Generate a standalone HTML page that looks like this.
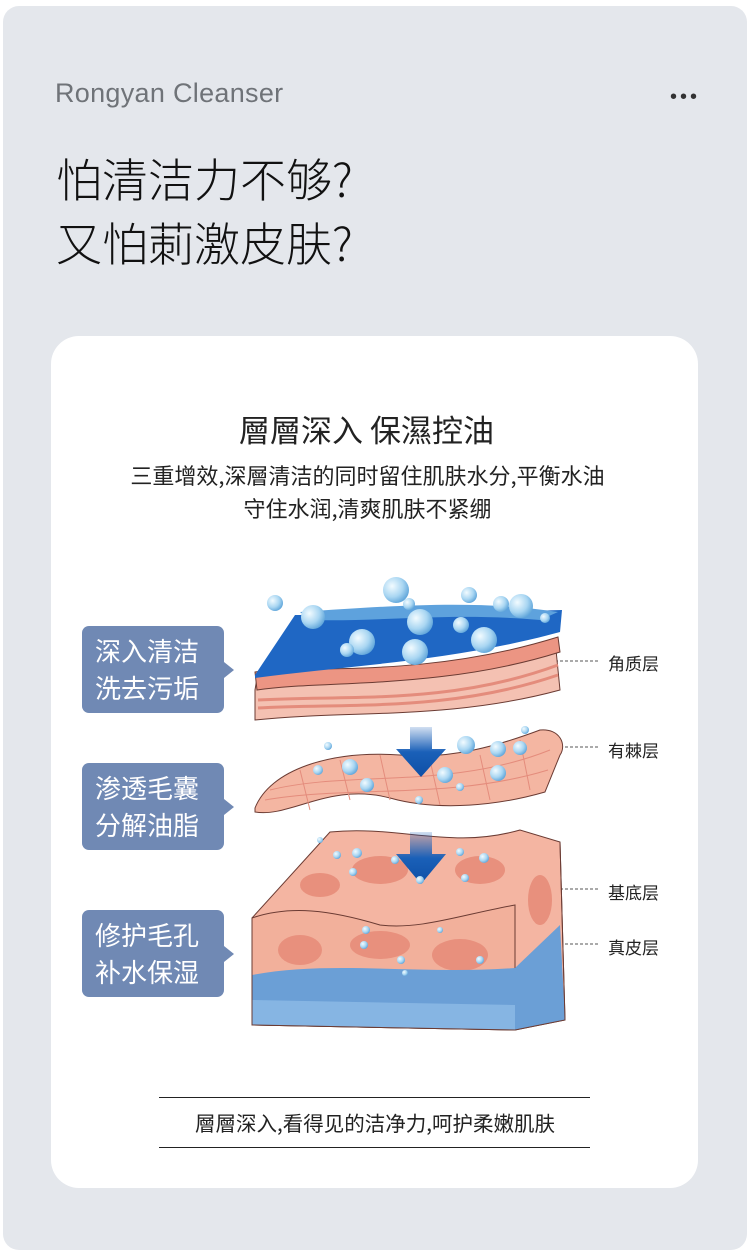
<!DOCTYPE html>
<html><head><meta charset="utf-8"><style>
*{margin:0;padding:0;box-sizing:border-box}
body{width:750px;height:1254px;background:#fff;position:relative;overflow:hidden;font-family:"Liberation Sans","Noto Sans CJK SC",sans-serif}
.outer{position:absolute;left:3px;top:6px;width:744px;height:1244px;background:#e4e7ec;border-radius:16px}
.brand{position:absolute;left:55px;top:78px;font-size:27px;color:#6f7378;letter-spacing:0.3px}
.dots{position:absolute;left:670px;top:86px;font-size:20px;color:#333;letter-spacing:3px}
.h1{position:absolute;left:56px;top:146px;font-size:46px;line-height:64px;color:#111;font-family:"Noto Sans CJK SC",sans-serif;font-weight:300}
.card{position:absolute;left:51px;top:336px;width:647px;height:852px;background:#fff;border-radius:28px}
.t{position:absolute;left:0;width:733px;text-align:center;color:#222;font-family:"Noto Sans CJK SC",sans-serif}
.lab{position:absolute;left:82px;width:142px;height:87px;background:#7089b4;border-radius:7px;color:#fff;font-size:26px;line-height:37px;padding:6px 0 0 13px;font-family:"Noto Sans CJK SC",sans-serif}
.lab:after{content:"";position:absolute;right:-10px;top:36px;border-left:10px solid #7089b4;border-top:8px solid transparent;border-bottom:8px solid transparent}
.r{position:absolute;left:608px;font-size:17px;color:#222;font-family:"Noto Sans CJK SC",sans-serif}
</style></head><body>
<div class="outer"></div>
<div class="brand">Rongyan Cleanser</div>
<div class="dots">•••</div>
<div class="h1">怕清洁力不够?<br>又怕莿激皮肤?</div>
<div class="card"></div>
<div class="t" style="top:406px;font-size:31px">層層深入 保濕控油</div>
<div class="t" style="top:459px;font-size:22px;width:735px">三重增效,深層清洁的同时留住肌肤水分,平衡水油</div>
<div class="t" style="top:492px;font-size:22px;width:735px">守住水润,清爽肌肤不紧绷</div>
<div class="lab" style="top:626px">深入清洁<br>洗去污垢</div>
<div class="lab" style="top:763px">渗透毛囊<br>分解油脂</div>
<div class="lab" style="top:910px">修护毛孔<br>补水保湿</div>
<div class="r" style="top:650px">角质层</div>
<div class="r" style="top:737px">有棘层</div>
<div class="r" style="top:879px">基底层</div>
<div class="r" style="top:934px">真皮层</div>
<svg style="position:absolute;left:0;top:0" width="750" height="1254">
<defs>
<radialGradient id="b" cx="0.35" cy="0.35" r="0.7"><stop offset="0" stop-color="#f2fbff"/><stop offset="0.6" stop-color="#a9d6f2"/><stop offset="1" stop-color="#5fa5da"/></radialGradient>
<linearGradient id="ar" x1="0" y1="0" x2="0" y2="1"><stop offset="0" stop-color="#1a60b8" stop-opacity="0.2"/><stop offset="0.5" stop-color="#1a60b8"/><stop offset="1" stop-color="#0e4fa6"/></linearGradient>
</defs>
<g stroke="#555" stroke-width="1" stroke-dasharray="3,2" fill="none">
<line x1="540" y1="661" x2="600" y2="661"/><line x1="535" y1="747" x2="600" y2="747"/>
<line x1="535" y1="889" x2="600" y2="889"/><line x1="535" y1="944" x2="600" y2="944"/>
</g>
<path d="M255,690 L258,672 C300,665 400,685 555,640 L560,690 C450,720 350,710 255,720 Z" fill="#f4c1b2" stroke="#6b3b33"/>
<path d="M258,700 C350,695 450,705 558,665 M258,708 C350,703 450,712 558,675" stroke="#e48c7c" stroke-width="3" fill="none"/>
<path d="M255,672 C300,664 420,680 558,637 L560,652 C440,690 320,680 257,690 Z" fill="#ec9583" stroke="#6b3b33"/>
<path d="M255,675 L295,615 C400,615 480,612 562,610 L560,632 C450,662 350,665 255,678 Z" fill="#1f67c4"/>
<path d="M300,612 C400,605 480,600 558,612 L540,620 C450,612 380,622 310,620 Z" fill="#5ea2dd"/>
<path d="M255,808 C270,770 330,750 400,755 C450,760 500,745 540,730 C560,728 567,745 560,755 L545,792 C500,805 440,812 390,798 C330,782 290,818 255,812 Z" fill="#f4b6a2" stroke="#6b3b33"/>
<g stroke="#e48c7c" fill="none"><path d="M270,790 C350,770 450,790 550,750"/><path d="M265,800 C350,785 450,800 548,770"/><path d="M300,770 L310,810 M340,760 L350,800 M380,755 L390,800 M430,760 L440,805 M480,755 L490,800 M520,740 L530,790"/></g>
<path d="M252,918 L330,832 C400,825 450,850 520,830 L560,842 L565,1020 L515,1030 L252,1025 Z" fill="#f4b5a2" stroke="#6b3b33"/>
<path d="M252,918 L252,1025 L515,1030 L515,905 C460,915 420,930 380,925 C330,910 290,905 252,918 Z" fill="#f2b09b" stroke="#6b3b33"/>
<g fill="#e8907d"><ellipse cx="300" cy="950" rx="22" ry="15"/><ellipse cx="380" cy="945" rx="30" ry="14"/><ellipse cx="460" cy="955" rx="28" ry="16"/><ellipse cx="330" cy="985" rx="25" ry="12"/><ellipse cx="420" cy="990" rx="30" ry="12"/><ellipse cx="380" cy="870" rx="28" ry="14"/><ellipse cx="480" cy="870" rx="25" ry="14"/><ellipse cx="320" cy="885" rx="20" ry="12"/><ellipse cx="540" cy="900" rx="12" ry="25"/></g>
<path d="M252,975 C330,960 420,975 515,968 L515,1030 L252,1025 Z" fill="#6b9fd6"/>
<path d="M252,1000 L515,1005 L515,1030 L252,1025 Z" fill="#86b5e3"/>
<path d="M515,968 L560,925 L565,1020 L515,1030 Z" fill="#6b9fd6"/>
<path d="M252,918 L252,1025 L515,1030 L565,1020 L560,842" fill="none" stroke="#6b3b33"/>
<path d="M410,727 h22 v22 h14 l-25,28 l-25,-28 h14 Z" fill="url(#ar)"/>
<path d="M410,832 h22 v22 h14 l-25,30 l-25,-30 h14 Z" fill="url(#ar)"/>
<g fill="url(#b)">
<circle cx="396" cy="590" r="13"/><circle cx="275" cy="603" r="8"/><circle cx="313" cy="617" r="12"/><circle cx="362" cy="642" r="13"/><circle cx="415" cy="652" r="13"/><circle cx="420" cy="622" r="13"/><circle cx="484" cy="640" r="13"/><circle cx="521" cy="606" r="12"/><circle cx="501" cy="604" r="8"/><circle cx="469" cy="595" r="8"/><circle cx="461" cy="625" r="8"/><circle cx="347" cy="650" r="7"/><circle cx="409" cy="604" r="6"/><circle cx="545" cy="618" r="5"/>
<circle cx="350" cy="767" r="8"/><circle cx="367" cy="785" r="7"/><circle cx="466" cy="745" r="9"/><circle cx="445" cy="775" r="8"/><circle cx="498" cy="749" r="8"/><circle cx="498" cy="773" r="8"/><circle cx="520" cy="748" r="7"/><circle cx="318" cy="770" r="5"/><circle cx="328" cy="746" r="4"/><circle cx="419" cy="800" r="4"/><circle cx="460" cy="787" r="4"/><circle cx="525" cy="730" r="4"/>
<circle cx="337" cy="855" r="4"/><circle cx="357" cy="853" r="5"/><circle cx="353" cy="872" r="4"/><circle cx="395" cy="860" r="4"/><circle cx="460" cy="852" r="4"/><circle cx="484" cy="858" r="5"/><circle cx="420" cy="880" r="4"/><circle cx="465" cy="878" r="4"/><circle cx="366" cy="930" r="4"/><circle cx="364" cy="945" r="4"/><circle cx="401" cy="960" r="4"/><circle cx="405" cy="973" r="3"/><circle cx="480" cy="960" r="4"/><circle cx="440" cy="930" r="3"/><circle cx="320" cy="840" r="3"/>
</g>
</svg>
<div style="position:absolute;left:159px;top:1097px;width:431px;border-top:1.5px solid #222"></div>
<div style="position:absolute;left:159px;top:1147px;width:431px;border-top:1.5px solid #222"></div>
<div class="t" style="top:1107px;left:0;width:750px;font-size:20.5px">層層深入,看得见的洁净力,呵护柔嫩肌肤</div>
</body></html>
